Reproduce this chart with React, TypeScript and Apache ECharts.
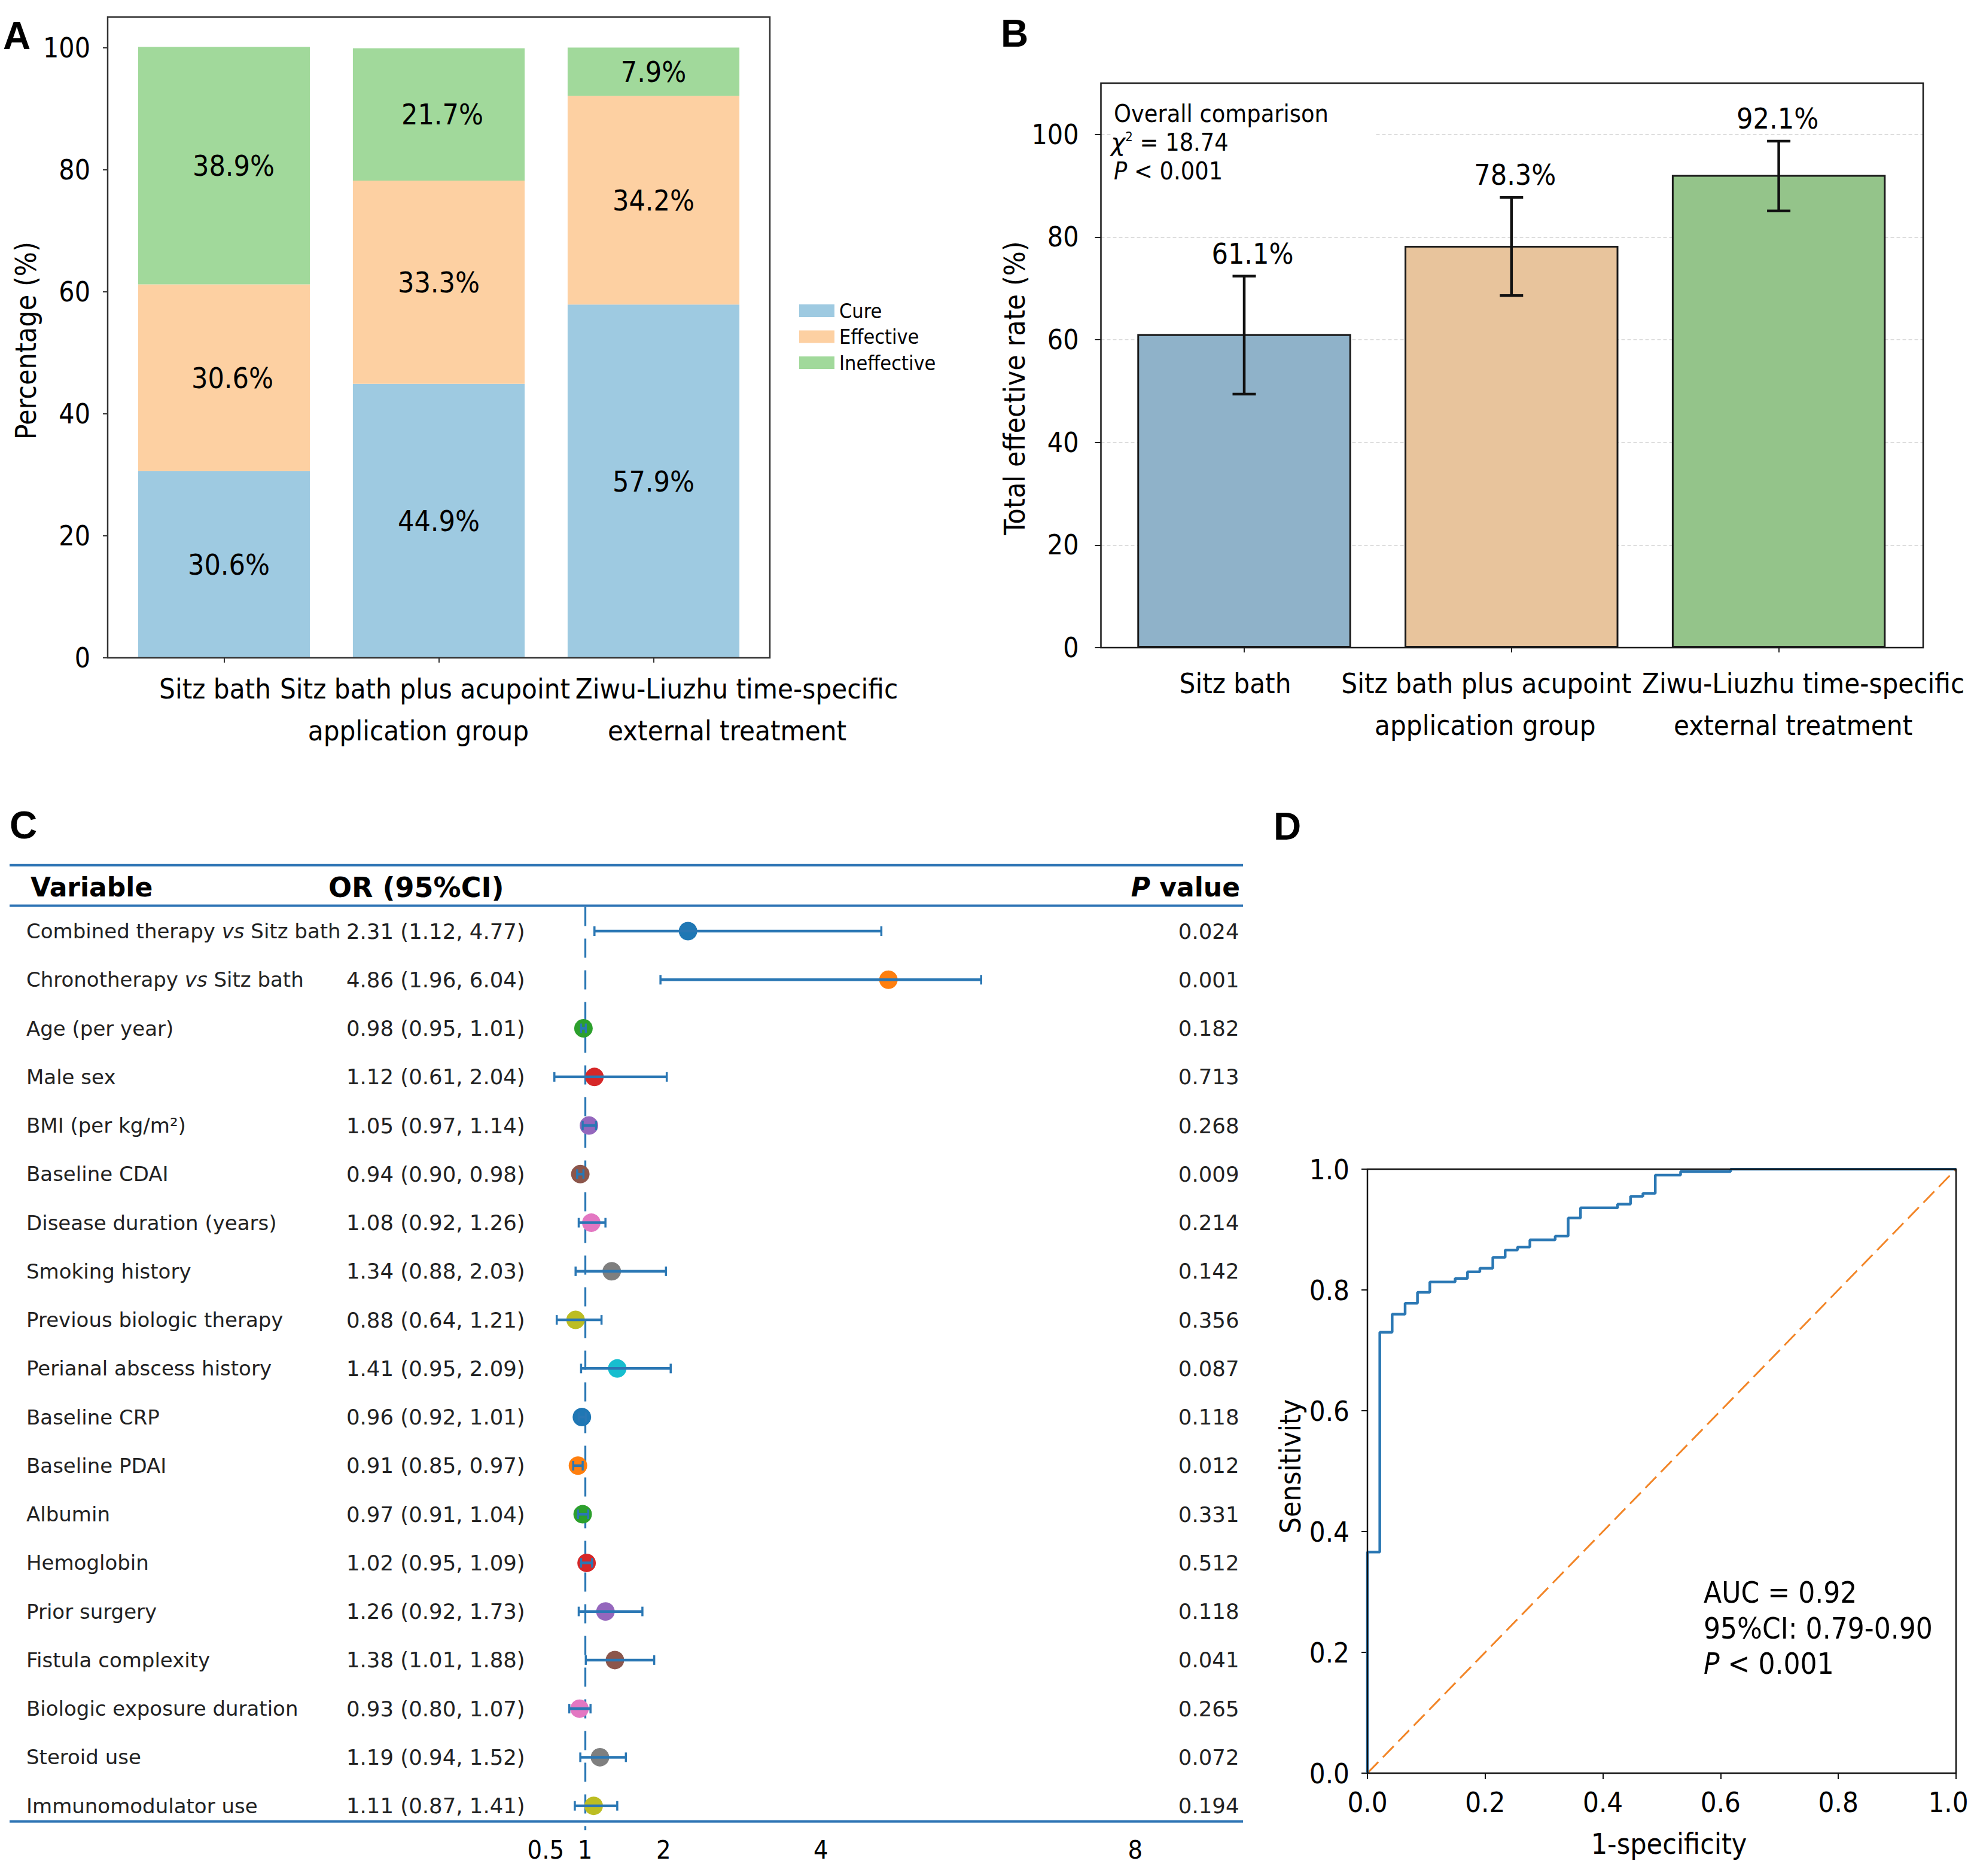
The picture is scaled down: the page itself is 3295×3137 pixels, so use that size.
import React, { useEffect, useRef } from "react";
import * as echarts from "echarts";

// ---------------- fonts ----------------
const FT = "'DejaVu Sans Condensed', 'Liberation Sans', Arial, sans-serif";
const FD = "'DejaVu Sans', Verdana, sans-serif";
const FL = "'Liberation Sans', Arial, sans-serif";

// ---------------- Panel A data ----------------
const groups = [
  "Sitz bath",
  "Sitz bath plus acupoint\napplication group",
  "Ziwu-Liuzhu time-specific\nexternal treatment",
];
const cureA = [30.6, 44.9, 57.9];
const effectiveA = [30.6, 33.3, 34.2];
const ineffectiveA = [38.9, 21.7, 7.9];
const yTicksA = [0, 20, 40, 60, 80, 100];

// ---------------- Panel B data ----------------
const rateB = [61.1, 78.3, 92.1];
const ciLowB = [49.4, 68.6, 85.1];
const ciHighB = [72.4, 87.7, 98.7];
const yTicksB = [0, 20, 40, 60, 80, 100];

// ---------------- Panel C data ----------------
const variables = [
  "Combined therapy vs Sitz bath",
  "Chronotherapy vs Sitz bath",
  "Age (per year)",
  "Male sex",
  "BMI (per kg/m²)",
  "Baseline CDAI",
  "Disease duration (years)",
  "Smoking history",
  "Previous biologic therapy",
  "Perianal abscess history",
  "Baseline CRP",
  "Baseline PDAI",
  "Albumin",
  "Hemoglobin",
  "Prior surgery",
  "Fistula complexity",
  "Biologic exposure duration",
  "Steroid use",
  "Immunomodulator use",
];
const orC = [2.31, 4.86, 0.98, 1.12, 1.05, 0.94, 1.08, 1.34, 0.88, 1.41, 0.96, 0.91, 0.97, 1.02, 1.26, 1.38, 0.93, 1.19, 1.11];
const loC = [1.12, 1.96, 0.95, 0.61, 0.97, 0.9, 0.92, 0.88, 0.64, 0.95, 0.92, 0.85, 0.91, 0.95, 0.92, 1.01, 0.8, 0.94, 0.87];
const hiC = [4.77, 6.04, 1.01, 2.04, 1.14, 0.98, 1.26, 2.03, 1.21, 2.09, 1.01, 0.97, 1.04, 1.09, 1.73, 1.88, 1.07, 1.52, 1.41];
const pC = ["0.024", "0.001", "0.182", "0.713", "0.268", "0.009", "0.214", "0.142", "0.356", "0.087", "0.118", "0.012", "0.331", "0.512", "0.118", "0.041", "0.265", "0.072", "0.194"];
const xTicksC = [0.5, 1, 2, 4, 8];
const refOR = 1;

// ---------------- Panel D data ----------------
const fprD = [0, 0, 0.021, 0.042, 0.064, 0.085, 0.106, 0.149, 0.17, 0.191, 0.213, 0.234, 0.255, 0.276, 0.319, 0.341, 0.362, 0.425, 0.447, 0.468, 0.489, 0.532, 0.617, 1.0];
const tprD = [0, 0.366, 0.73, 0.76, 0.778, 0.796, 0.813, 0.819, 0.83, 0.836, 0.854, 0.866, 0.871, 0.883, 0.889, 0.919, 0.936, 0.942, 0.955, 0.96, 0.99, 0.996, 1.0, 1.0];
const chanceX = [0, 1];
const chanceY = [0, 1];

// ---------------- styles ----------------
const colorsA = ["#9ecae1", "#fdd0a2", "#a1d99b"];
const colorsB = ["#8fb2c9", "#e8c49c", "#94c48a"];
const tab10 = ["#1f77b4", "#ff7f0e", "#2ca02c", "#d62728", "#9467bd", "#8c564b", "#e377c2", "#7f7f7f", "#bcbd22", "#17becf"];
const shiftA = [[-15], [-23, -34], [139, 123]];
const shiftB = [[-15], [-42, -44], [41, 24]];
// small horizontal nudges of the segment labels (per series, per bar), px
const labelDxA = [
  [8, 0, 0],
  [14, 0, 0],
  [16, 6, 0],
];
const labelDxB = [14, 6, -2];
const CBLUE = "#2a77b4";

const catFormatter = (prefix: string) => (value: string, index: number) =>
  String(value)
    .split("\n")
    .map((line, j) => `{${prefix}${index}x${j}|${line}}`)
    .join("\n");

const catRich = (prefix: string, shifts: number[][]) => {
  const rich: Record<string, any> = {};
  shifts.forEach((arr, i) =>
    arr.forEach((s, j) => {
      rich[`${prefix}${i}x${j}`] = {
        fontFamily: FT,
        fontSize: 47,
        lineHeight: 70,
        color: "#000",
        padding: s < 0 ? [0, -2 * s, 0, 0] : [0, 0, 0, 2 * s],
      };
    })
  );
  return rich;
};

const txt = (text: string, x: number, y: number, extra: any = {}, align = "left") => ({
  type: "text",
  x,
  y,
  z: 20,
  style: {
    text,
    fill: "#000",
    align,
    textAlign: align,
    verticalAlign: "middle",
    textVerticalAlign: "middle",
    ...extra,
  },
});

const renderErrB = (params: any, api: any) => {
  const i = api.value(0);
  const lo = api.value(1);
  const hi = api.value(2);
  const r = api.value(3);
  const a = api.coord([i, lo]);
  const b = api.coord([i, hi]);
  const x = a[0];
  const cap = 19.5;
  const st = { stroke: "#111", lineWidth: 4.5 };
  return {
    type: "group",
    children: [
      { type: "line", shape: { x1: x, y1: a[1], x2: x, y2: b[1] }, style: st },
      { type: "line", shape: { x1: x - cap, y1: b[1], x2: x + cap, y2: b[1] }, style: st },
      { type: "line", shape: { x1: x - cap, y1: a[1], x2: x + cap, y2: a[1] }, style: st },
      {
        type: "text",
        x: x + (labelDxB[params.dataIndex] || 0),
        y: b[1] - 38,
        style: {
          text: Number(r).toFixed(1) + "%",
          fill: "#000",
          fontSize: 48,
          fontFamily: FT,
          align: "center",
          textAlign: "center",
          verticalAlign: "middle",
          textVerticalAlign: "middle",
        },
      },
    ],
  };
};

const renderCI = (_params: any, api: any) => {
  const lo = api.value(0);
  const hi = api.value(1);
  const i = api.value(2);
  const a = api.coord([lo, i]);
  const b = api.coord([hi, i]);
  const cap = 8;
  const st = { stroke: CBLUE, lineWidth: 4.5 };
  const cs = { stroke: CBLUE, lineWidth: 3.5 };
  return {
    type: "group",
    children: [
      { type: "line", shape: { x1: a[0], y1: a[1], x2: b[0], y2: b[1] }, style: st },
      { type: "line", shape: { x1: a[0], y1: a[1] - cap, x2: a[0], y2: a[1] + cap }, style: cs },
      { type: "line", shape: { x1: b[0], y1: b[1] - cap, x2: b[0], y2: b[1] + cap }, style: cs },
    ],
  };
};

function buildOption(): any {
  const orText = orC.map((v, i) => `${v.toFixed(2)} (${loC[i].toFixed(2)}, ${hiC[i].toFixed(2)})`);
  const noBounds = { outerBoundsMode: "none", containLabel: false };
  const tickStyle = (c: string) => ({ color: c, width: 2 });

  return {
    animation: false,
    backgroundColor: "#fff",
    grid: [
      { left: 180, top: 28.6, width: 1107, height: 1071.4, show: true, borderColor: "#333", borderWidth: 2.5, backgroundColor: "transparent", z: 5, ...noBounds },
      { left: 195, top: 28.6, width: 1077, height: 1071.4, ...noBounds },
      { left: 1840.5, top: 139, width: 1374.5, height: 944, show: true, borderColor: "#1a1a1a", borderWidth: 2.5, backgroundColor: "transparent", z: 5, ...noBounds },
      { left: 1856.6, top: 139, width: 1340.4, height: 944, ...noBounds },
      { left: 912.3, top: 1516.4, width: 1116.9, height: 1543.9, ...noBounds },
      { left: 2286, top: 1955, width: 984, height: 1010, show: true, borderColor: "#111", borderWidth: 2.5, backgroundColor: "transparent", z: 5, ...noBounds },
    ],
    legend: {
      data: ["Cure", "Effective", "Ineffective"],
      orient: "vertical",
      left: 1336,
      top: 502.5,
      padding: 0,
      itemWidth: 59,
      itemHeight: 21,
      itemGap: 9.5,
      icon: "rect",
      selectedMode: false,
      textStyle: { fontSize: 34, fontFamily: FT, color: "#000", lineHeight: 34, padding: [0, 0, 0, 3] },
    },
    xAxis: [
      { gridIndex: 0, type: "value", min: 0, max: 1, show: false },
      {
        gridIndex: 1,
        type: "category",
        data: groups,
        axisLine: { show: false },
        axisTick: { show: true, alignWithLabel: true, length: 8, lineStyle: tickStyle("#333") },
        axisLabel: { interval: 0, margin: 16, formatter: catFormatter("a"), rich: catRich("a", shiftA) },
      },
      { gridIndex: 2, type: "value", min: 0, max: 1, show: false },
      {
        gridIndex: 3,
        type: "category",
        data: groups,
        axisLine: { show: false },
        axisTick: { show: true, alignWithLabel: true, length: 8, lineStyle: tickStyle("#222") },
        axisLabel: { interval: 0, margin: 24, formatter: catFormatter("b"), rich: catRich("b", shiftB) },
      },
      {
        gridIndex: 4,
        type: "value",
        min: 0.5,
        max: 9,
        axisLine: { show: false },
        axisTick: { show: false },
        splitLine: { show: false },
        axisLabel: {
          customValues: xTicksC,
          formatter: (v: number) => String(v),
          fontSize: 43,
          fontFamily: FT,
          color: "#000",
          margin: 11,
        },
      },
      {
        gridIndex: 5,
        type: "value",
        min: 0,
        max: 1,
        interval: 0.2,
        axisLine: { show: false },
        axisTick: { show: true, length: 10, lineStyle: tickStyle("#111") },
        splitLine: { show: false },
        axisLabel: {
          formatter: (v: number) => (v >= 1 ? `{m|${v.toFixed(1)}}` : `{r|${v.toFixed(1)}}`),
          rich: {
            r: { fontSize: 47, fontFamily: FT, color: "#000" },
            m: { fontSize: 47, fontFamily: FT, color: "#000", padding: [0, 26, 0, 0] },
          },
          fontSize: 47,
          fontFamily: FT,
          color: "#000",
          margin: 25,
        },
        name: "1-specificity",
        nameLocation: "middle",
        nameGap: 94,
        nameTextStyle: { fontSize: 48, fontFamily: FT, color: "#000", padding: [0, 0, 0, 24] },
      },
    ],
    yAxis: [
      {
        gridIndex: 0,
        type: "value",
        min: 0,
        max: 105,
        interval: 20,
        axisLine: { show: false },
        axisTick: { show: true, length: 8, customValues: yTicksA, lineStyle: tickStyle("#333") },
        axisLabel: { customValues: yTicksA, fontSize: 46, fontFamily: FT, color: "#000", margin: 29 },
        splitLine: { show: false },
        name: "Percentage (%)",
        nameLocation: "middle",
        nameGap: 113,
        nameTextStyle: { fontSize: 48, fontFamily: FT, color: "#000", padding: [0, 11, 0, 0] },
      },
      { gridIndex: 1, type: "value", min: 0, max: 105, show: false },
      {
        gridIndex: 2,
        type: "value",
        min: 0,
        max: 110,
        interval: 20,
        axisLine: { show: false },
        axisTick: { show: true, length: 10, customValues: yTicksB, lineStyle: tickStyle("#222") },
        axisLabel: { customValues: yTicksB, fontSize: 46, fontFamily: FT, color: "#000", margin: 37 },
        splitLine: { show: true, lineStyle: { type: [6, 4], color: "#d4d4d4", width: 1.5 } },
        name: "Total effective rate (%)",
        nameLocation: "middle",
        nameGap: 121,
        nameTextStyle: { fontSize: 48, fontFamily: FT, color: "#000", padding: [0, 76, 0, 0] },
      },
      { gridIndex: 3, type: "value", min: 0, max: 110, show: false },
      {
        gridIndex: 4,
        type: "category",
        position: "left",
        data: variables,
        inverse: true,
        axisLine: { show: false },
        axisTick: { show: false },
        axisLabel: {
          interval: 0,
          align: "left",
          margin: 868.3,
          formatter: (v: string) =>
            v.includes(" vs ")
              ? v
                  .split(" vs ")
                  .map((s) => `{n|${s}}`)
                  .join("{n| }{i|vs}{n| }")
              : `{n|${v}}`,
          rich: {
            n: { fontFamily: FD, fontSize: 34, color: "#222" },
            i: { fontFamily: FD, fontSize: 34, color: "#222", fontStyle: "italic" },
          },
        },
      },
      {
        gridIndex: 4,
        type: "category",
        position: "left",
        data: variables,
        inverse: true,
        axisLine: { show: false },
        axisTick: { show: false },
        axisLabel: {
          interval: 0,
          align: "left",
          margin: 333.3,
          formatter: (_v: string, i: number) => orText[i],
          fontFamily: FD,
          fontSize: 35.5,
          color: "#222",
        },
      },
      {
        gridIndex: 4,
        type: "category",
        position: "right",
        data: variables,
        inverse: true,
        axisLine: { show: false },
        axisTick: { show: false },
        axisLabel: {
          interval: 0,
          align: "right",
          margin: 42.3,
          formatter: (_v: string, i: number) => pC[i],
          fontFamily: FD,
          fontSize: 35.5,
          color: "#222",
        },
      },
      {
        gridIndex: 5,
        type: "value",
        min: 0,
        max: 1,
        interval: 0.2,
        axisLine: { show: false },
        axisTick: { show: true, length: 10, lineStyle: tickStyle("#111") },
        splitLine: { show: false },
        axisLabel: { formatter: (v: number) => v.toFixed(1), fontSize: 47, fontFamily: FT, color: "#000", margin: 30 },
        name: "Sensitivity",
        nameLocation: "middle",
        nameGap: 105,
        nameTextStyle: { fontSize: 48, fontFamily: FT, color: "#000", padding: [0, 0, 0, 16] },
      },
    ],
    series: [
      ...[
        ["Cure", cureA],
        ["Effective", effectiveA],
        ["Ineffective", ineffectiveA],
      ].map(([name, data], k) => ({
        name,
        type: "bar",
        xAxisIndex: 1,
        yAxisIndex: 1,
        stack: "a",
        data: (data as number[]).map((v, j) => ({ value: v, label: { offset: [labelDxA[k][j], 0] } })),
        barWidth: "80%",
        itemStyle: { color: colorsA[k] },
        label: {
          show: true,
          position: "inside",
          formatter: (p: any) => Number(p.value).toFixed(1) + "%",
          fontSize: 48,
          fontFamily: FT,
          color: "#000",
        },
      })),
      {
        name: "Total effective rate",
        type: "bar",
        xAxisIndex: 3,
        yAxisIndex: 3,
        barWidth: "80%",
        data: rateB.map((v, i) => ({ value: v, itemStyle: { color: colorsB[i] } })),
        itemStyle: { borderColor: "#1a1a1a", borderWidth: 3 },
      },
      {
        name: "95% CI B",
        type: "custom",
        xAxisIndex: 3,
        yAxisIndex: 3,
        z: 6,
        encode: { x: 0, y: [1, 2] },
        data: rateB.map((r, i) => [i, ciLowB[i], ciHighB[i], r]),
        renderItem: renderErrB,
      },
      {
        name: "OR",
        type: "scatter",
        xAxisIndex: 4,
        yAxisIndex: 4,
        z: 3,
        symbolSize: 31,
        data: orC.map((v, i) => ({ value: [v, i], itemStyle: { color: tab10[i % 10], opacity: 1 } })),
        markLine: {
          silent: true,
          z: 1,
          symbol: ["none", "none"],
          label: { show: false },
          lineStyle: { color: CBLUE, width: 3.3, type: [32, 21] },
          data: [{ xAxis: refOR }],
        },
      },
      {
        name: "95% CI C",
        type: "custom",
        xAxisIndex: 4,
        yAxisIndex: 4,
        z: 4,
        encode: { x: [0, 1], y: 2 },
        data: orC.map((_v, i) => [loC[i], hiC[i], i]),
        renderItem: renderCI,
      },
      {
        name: "Chance",
        type: "line",
        xAxisIndex: 5,
        yAxisIndex: 7,
        symbol: "none",
        z: 2,
        data: chanceX.map((x, i) => [x, chanceY[i]]),
        lineStyle: { color: "#f28527", width: 3, type: [26, 11] },
      },
      {
        name: "ROC",
        type: "line",
        xAxisIndex: 5,
        yAxisIndex: 7,
        symbol: "none",
        step: "end",
        z: 3,
        data: fprD.map((x, i) => [x, tprD[i]]),
        lineStyle: { color: "#2b78b4", width: 4.5 },
      },
    ],
    graphic: [
      txt("A", 5, 59.5, { fontSize: 64, fontWeight: "bold", fontFamily: FL }),
      txt("B", 1673, 55.5, { fontSize: 64, fontWeight: "bold", fontFamily: FL }),
      txt("C", 16, 1380, { fontSize: 64, fontWeight: "bold", fontFamily: FL }),
      txt("D", 2129, 1381.5, { fontSize: 64, fontWeight: "bold", fontFamily: FL }),
      { type: "line", z: 20, shape: { x1: 16, y1: 1446.8, x2: 2078, y2: 1446.8 }, style: { stroke: "#2f75b5", lineWidth: 4 } },
      { type: "line", z: 20, shape: { x1: 16, y1: 1514.5, x2: 2078, y2: 1514.5 }, style: { stroke: "#2f75b5", lineWidth: 4 } },
      { type: "line", z: 20, shape: { x1: 16, y1: 3045.7, x2: 2078, y2: 3045.7 }, style: { stroke: "#2f75b5", lineWidth: 4 } },
      txt("Variable", 51, 1483.5, { fontSize: 44, fontWeight: "bold", fontFamily: FD }),
      txt("OR (95%CI)", 549, 1483.5, { fontSize: 46, fontWeight: "bold", fontFamily: FD }),
      txt(
        "{i|P}{b| value}",
        2073,
        1483.5,
        {
          rich: {
            i: { fontSize: 44, fontWeight: "bold", fontStyle: "italic", fontFamily: FD, fill: "#000" },
            b: { fontSize: 44, fontWeight: "bold", fontFamily: FD, fill: "#000" },
          },
        },
        "right"
      ),
      { type: "rect", z: 15, shape: { x: 1858, y: 162, width: 439, height: 148 }, style: { fill: "#fff" } },
      txt("Overall comparison", 1862, 190, { fontSize: 41, fontFamily: FT }),
      txt("{c|χ}{s|2}{n| = 18.74}", 1857, 238, {
        rich: {
          c: { fontSize: 41, fontStyle: "italic", fontFamily: FD, fill: "#000" },
          s: { fontSize: 22, fontFamily: FT, fill: "#000", verticalAlign: "top" },
          n: { fontSize: 41, fontFamily: FT, fill: "#000" },
        },
      }),
      txt("{i|P}{n| < 0.001}", 1862, 286, {
        rich: {
          i: { fontSize: 41, fontStyle: "italic", fontFamily: FT, fill: "#000" },
          n: { fontSize: 41, fontFamily: FT, fill: "#000" },
        },
      }),
      txt("AUC = 0.92", 2848, 2663, { fontSize: 49, fontFamily: FT }),
      txt("95%CI: 0.79-0.90", 2848, 2723, { fontSize: 49, fontFamily: FT }),
      txt("{i|P}{n| < 0.001}", 2848, 2782, {
        rich: {
          i: { fontSize: 49, fontStyle: "italic", fontFamily: FT, fill: "#000" },
          n: { fontSize: 49, fontFamily: FT, fill: "#000" },
        },
      }),
    ],
  };
}

export default function App() {
  const ref = useRef<HTMLDivElement>(null);
  useEffect(() => {
    document.body.style.margin = "0";
    const chart = echarts.init(ref.current as HTMLDivElement, null, { renderer: "svg" });
    chart.setOption(buildOption());
    return () => chart.dispose();
  }, []);
  return <div ref={ref} style={{ width: 3295, height: 3137, background: "#fff" }} />;
}
